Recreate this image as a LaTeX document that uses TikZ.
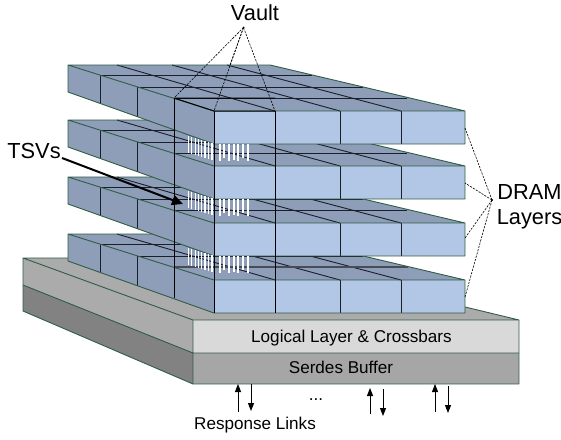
\documentclass[tikz,border=0pt]{standalone}
\usepackage{fontspec}
\setmainfont{Liberation Sans}
\usetikzlibrary{arrows.meta}
\definecolor{frontc}{HTML}{B2C7E6}
\definecolor{sidec}{HTML}{8E9DB8}
\definecolor{edgec}{HTML}{2F5D46}
\definecolor{gridc}{HTML}{1A1F2A}
\tikzset{
  edgeline/.style={draw=edgec,line width=0.9pt,line join=round},
  gridline/.style={draw=gridc,line width=0.9pt},
  vaultline/.style={draw=black,line width=1pt},
  tsv/.style={draw=white,line width=1.1pt},
  dashline/.style={draw=black,line width=0.6pt,dash pattern=on 2.2pt off 1.2pt},
  linkarrow/.style={draw=black,line width=1pt,-{Triangle[length=8pt,width=6pt]}},
  bigtext/.style={font=\fontsize{21.8}{25}\selectfont,inner sep=0pt,align=center},
  smalltext/.style={font=\fontsize{17.1}{20}\selectfont,inner sep=0pt}
}
\newcommand{\layer}[1]{%
  \begin{scope}[shift={(0,#1)}]
    \fill[sidec] (68,65) -- (270,65) -- (465,111) -- (214,111) -- cycle;
    \fill[sidec] (68,65) -- (214,111) -- (214,144) -- (68,92) -- cycle;
    \fill[frontc] (214,111) rectangle (465,144);
    \draw[gridline] (100,75) -- (312,75) (137,87) -- (363,87) (174,98) -- (407,98);
    \draw[gridline] (117,65) -- (275,111) (172,65) -- (340,111) (227,65) -- (401,111);
    \draw[gridline] (100,75) -- (100,103) (137,87) -- (137,117);
    \draw[gridline] (340,111) -- (340,144) (401,111) -- (401,144);
    \draw[edgeline] (68,65) -- (270,65) -- (465,111) -- (214,111) -- cycle;
    \draw[edgeline] (68,65) -- (68,92) -- (214,144) -- (465,144) -- (465,111);
  \end{scope}}
\newcommand{\tsvs}[1]{%
  \begin{scope}[shift={(0,#1)}]
    \foreach \x/\yt/\yb in {188.5/136/153,191.5/137/154,195.5/138/155,198.5/139/156,201.5/140/157,205/141/158,208.5/142/159,212/143/160}
      \draw[tsv] (\x,\yt) -- (\x,\yb);
    \foreach \x/\yb in {220/161,224/158,229/161,234/160,238/161,243/158,248/161}
      \draw[tsv] (\x,144) -- (\x,\yb);
  \end{scope}}
\begin{document}
\begin{tikzpicture}[x=1pt,y=-1pt]
  \useasboundingbox (0,0) rectangle (561,439);
  \fill[white] (0,0) rectangle (561,439);
  % base
  \fill[black!33] (23,258) -- (262,258) -- (519,320) -- (193,320) -- cycle;
  \fill[black!33] (23,258) -- (193,320) -- (193,353) -- (23,285) -- cycle;
  \fill[black!49] (23,285) -- (193,353) -- (193,384) -- (23,311) -- cycle;
  \fill[black!15] (193,320) rectangle (519,353);
  \fill[black!35] (193,353) rectangle (519,384);
  \draw[edgeline] (23,258) -- (262,258) -- (519,320) -- (193,320) -- cycle;
  \draw[edgeline] (23,258) -- (23,311) -- (193,384) -- (519,384) -- (519,320);
  \draw[edgeline] (193,320) -- (193,384) (23,285) -- (193,353) -- (519,353);
  % layers, back to front
  \layer{169}
  \layer{112}
  \layer{55}
  \layer{0}
  \draw[draw=gridc!80,line width=1.4pt] (174,267) -- (408,267);
  % TSVs
  \tsvs{0}
  \tsvs{55}
  \tsvs{112}
  % vault
  \draw[vaultline] (174,98) -- (174,298) (214,111) -- (214,313) (275,111) -- (275,313);
  \draw[vaultline] (174,98) -- (214,111) -- (275,111) (174,98) -- (275,98);
  % coordinates
  \coordinate (vapex) at (243.5,27.5);
  \coordinate (v1) at (174,98);
  \coordinate (v2) at (214,111);
  \coordinate (v3) at (275,111);
  \coordinate (v4) at (230,65);
  \coordinate (dapex) at (492,200);
  \coordinate (d1) at (465,128);
  \coordinate (d2) at (465,183);
  \coordinate (d3) at (465,238);
  \coordinate (d4) at (465,297);
  \foreach \t in {v1,v2,v3,v4}
    \draw[dashline] (vapex) -- (\t);
  \foreach \t in {d1,d2,d3,d4}
    \draw[dashline] (dapex) -- (\t);
  \fill[black] (vapex) circle (1pt) (dapex) circle (1pt);
  % labels
  \node[bigtext] (vault) at (255,13) {Vault};
  \node[bigtext] (tsvlabel) at (34,151) {TSVs};
  \node[bigtext] (dram) at (529.5,207) {DRAM\\Layers};
  \node[smalltext] (logical) at (351.5,338) {Logical Layer \& Crossbars};
  \node[smalltext] (serdes) at (341,367) {Serdes Buffer};
  \node[smalltext] (resp) at (255,425.5) {Response Links};
  \node[smalltext,anchor=base] (dots) at (316,400) {...};
  % TSV arrow
  \coordinate (tsvstart) at (62,158);
  \coordinate (tsvtip) at (183,204);
  \draw[draw=black,line width=2pt,-{Triangle[length=11pt,width=10pt]}] (tsvstart) -- (tsvtip);
  % link arrows
  \coordinate (a1) at (238,412); \coordinate (a2) at (238,384);
  \coordinate (b1) at (251,384); \coordinate (b2) at (251,411);
  \coordinate (c1) at (370,414); \coordinate (c2) at (370,388);
  \coordinate (e1) at (383,389); \coordinate (e2) at (383,416);
  \coordinate (f1) at (435,412); \coordinate (f2) at (435,384);
  \coordinate (g1) at (448,386); \coordinate (g2) at (448,413);
  \draw[linkarrow] (a1) -- (a2);
  \draw[linkarrow] (b1) -- (b2);
  \draw[linkarrow] (c1) -- (c2);
  \draw[linkarrow] (e1) -- (e2);
  \draw[linkarrow] (f1) -- (f2);
  \draw[linkarrow] (g1) -- (g2);
\end{tikzpicture}
\end{document}
